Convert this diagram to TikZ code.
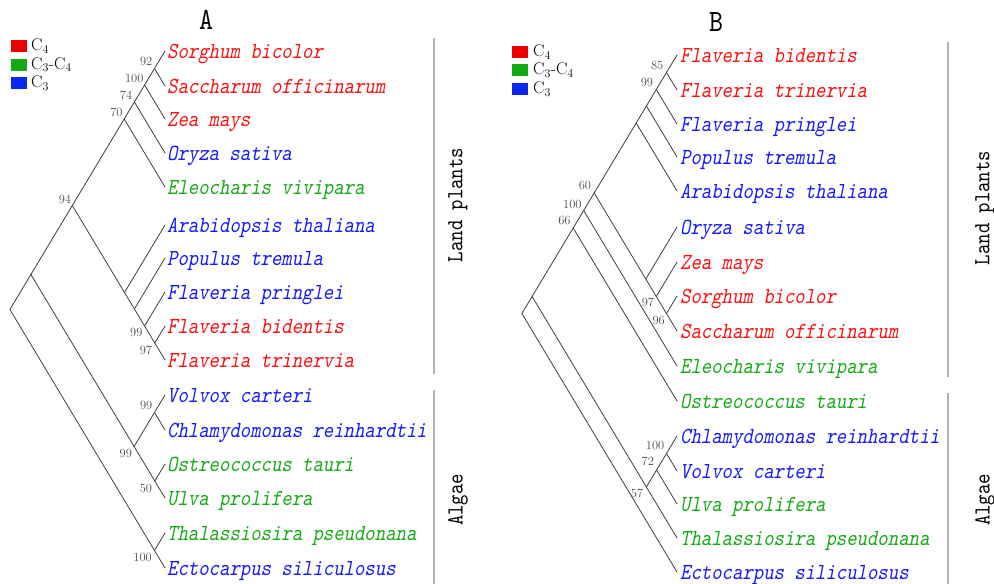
\documentclass[tikz,border=0pt]{standalone}
\usepackage{fontspec}
\newfontfamily\labfont{lmmono10-regular.otf}[FakeSlant=0.2,FakeStretch=0.86]
\newfontfamily\sidefont{lmmono10-regular.otf}[FakeStretch=0.86]
\definecolor{cred}{RGB}{250,15,15}
\definecolor{cgreen}{RGB}{20,170,20}
\definecolor{cblue}{RGB}{20,25,250}
\definecolor{lred}{RGB}{235,0,0}
\definecolor{lgreen}{RGB}{20,170,20}
\definecolor{lblue}{RGB}{10,40,240}
\tikzset{
  branch/.style={draw=black!75, line width=0.8pt, line cap=round},
  leaf/.style={anchor=base west, inner sep=0pt, font=\labfont\fontsize{23}{23}\selectfont},
  bsu/.style={anchor=south east, inner sep=0pt, text=black!70, font=\fontsize{12.5}{12.5}\selectfont},
  bsl/.style={anchor=north east, inner sep=0pt, text=black!70, font=\fontsize{12.5}{12.5}\selectfont},
  groupbar/.style={draw=black!30, line width=1.4pt},
  grouptext/.style={rotate=90, inner sep=0pt, font=\sidefont\fontsize{23}{23}\selectfont},
  legsq/.style={minimum width=16pt, minimum height=12pt, inner sep=0pt, draw=none},
  legtx/.style={anchor=west, inner sep=0pt, font=\fontsize{17}{17}\selectfont},
  ttl/.style={inner sep=0pt, font=\sidefont\fontsize{31}{31}\selectfont}
}
\begin{document}
\begin{tikzpicture}[x=1pt,y=-1pt,line join=round]
\useasboundingbox (0,0) rectangle (994,584);

% ---------------- titles
\node[ttl] (titleA) at (206,20) {A};
\node[ttl] (titleB) at (716,22) {B};

% ---------------- legends
\node[legsq, fill=lred]   (lgA1) at (19,46) {};
\node[legsq, fill=lgreen] (lgA2) at (19,64.5) {};
\node[legsq, fill=lblue]  (lgA3) at (19,83) {};
\node[legtx] (lgA1t) at (31,46) {C$_4$};
\node[legtx] (lgA2t) at (31,64.5) {C$_3$-C$_4$};
\node[legtx] (lgA3t) at (31,83) {C$_3$};
\node[legsq, fill=lred]   (lgB1) at (520,52) {};
\node[legsq, fill=lgreen] (lgB2) at (520,70) {};
\node[legsq, fill=lblue]  (lgB3) at (520,89) {};
\node[legtx] (lgB1t) at (533,52) {C$_4$};
\node[legtx] (lgB2t) at (533,70) {C$_3$-C$_4$};
\node[legtx] (lgB3t) at (533,89) {C$_3$};

% ---------------- tree A leaves
\foreach \n/\y/\c/\t in {
  a1/51/cred/Sorghum bicolor,
  a2/86/cred/Saccharum officinarum,
  a3/119/cred/Zea mays,
  a4/153/cblue/Oryza sativa,
  a5/187/cgreen/Eleocharis vivipara,
  a6/225/cblue/Arabidopsis thaliana,
  a7/258/cblue/Populus tremula,
  a8/292/cblue/Flaveria pringlei,
  a9/326/cred/Flaveria bidentis,
  a10/360/cred/Flaveria trinervia,
  a11/395/cblue/Volvox carteri,
  a12/430/cblue/Chlamydomonas reinhardtii,
  a13/464/cgreen/Ostreococcus tauri,
  a14/498/cgreen/Ulva prolifera,
  a15/533/cgreen/Thalassiosira pseudonana,
  a16/568/cblue/Ectocarpus siliculosus}
{
  \coordinate (\n) at (165,\y);
  \node[leaf, text=\c] (\n l) at ([xshift=2pt,yshift=-7.5pt]\n) {\t};
}

% tree A internal nodes
\coordinate (rA)   at (9.9,309.5);
\coordinate (n1)   at (30.9,274.5);
\coordinate (t100) at (154.5,550.5);
\coordinate (a94)  at (72.3,205.5);
\coordinate (gA99) at (134.1,446.5);
\coordinate (g99)  at (154.5,412.5);
\coordinate (g50)  at (154.8,481);
\coordinate (a70)  at (124.2,119);
\coordinate (a74)  at (134.4,102);
\coordinate (a100) at (144.6,85);
\coordinate (a92)  at (154.5,68.5);
\coordinate (d1)   at (124.5,292.5);
\coordinate (d2)   at (134.4,309);
\coordinate (d3)   at (144.6,326);
\coordinate (d4)   at (154.8,343);

\foreach \p/\c in {rA/n1, rA/t100, t100/a15, t100/a16,
  n1/a94, n1/gA99, gA99/g99, gA99/g50, g99/a11, g99/a12, g50/a13, g50/a14,
  a94/a70, a94/d1, a70/a74, a70/a5, a74/a100, a74/a4, a100/a92, a100/a3,
  a92/a1, a92/a2, d1/a6, d1/d2, d2/a7, d2/d3, d3/a8, d3/d4, d4/a9, d4/a10}
  \draw[branch] (\p) -- (\c);

% bootstrap A
\node[bsu] (bA92)  at ([xshift=-2pt,yshift=2.5pt]a92)  {92};
\node[bsu] (bA100) at ([xshift=-1pt,yshift=2pt]a100)   {100};
\node[bsu] (bA74)  at ([xshift=-2pt,yshift=2.5pt]a74)  {74};
\node[bsu] (bA70)  at ([xshift=-1.5pt,yshift=2pt]a70)  {70};
\node[bsu] (bA94)  at ([xshift=-1pt,yshift=1.5pt]a94)  {94};
\node[bsl] (bAd3)  at ([xshift=-2pt,yshift=-2pt]d3)    {99};
\node[bsl] (bAd4)  at ([xshift=-2.5pt,yshift=-2.5pt]d4) {97};
\node[bsu] (bAg99) at ([xshift=-2pt,yshift=3pt]g99)    {99};
\node[bsl] (bAgA)  at ([xshift=-2pt,yshift=-2.5pt]gA99) {99};
\node[bsl] (bAg50) at ([xshift=-2.5pt,yshift=-2.5pt]g50) {50};
\node[bsl] (bAt)   at ([xshift=-2.5pt,yshift=-2.5pt]t100) {100};

% group bars A
\coordinate (gbA1) at (434,38);  \coordinate (gbA2) at (434,374);
\coordinate (gbA3) at (434,390); \coordinate (gbA4) at (434,584);
\draw[groupbar] (gbA1) -- (gbA2);
\draw[groupbar] (gbA3) -- (gbA4);
\node[grouptext] (landA) at (458,205) {Land plants};
\node[grouptext] (algA)  at (458,500) {Algae};

% ---------------- tree B leaves
\foreach \n/\y/\c/\t in {
  b1/55/cred/Flaveria bidentis,
  b2/90/cred/Flaveria trinervia,
  b3/124/cblue/Flaveria pringlei,
  b4/157/cblue/Populus tremula,
  b5/191/cblue/Arabidopsis thaliana,
  b6/227/cblue/Oryza sativa,
  b7/262/cred/Zea mays,
  b8/296/cred/Sorghum bicolor,
  b9/331/cred/Saccharum officinarum,
  b10/366/cgreen/Eleocharis vivipara,
  b11/401/cgreen/Ostreococcus tauri,
  b12/436/cblue/Chlamydomonas reinhardtii,
  b13/471/cblue/Volvox carteri,
  b14/504/cgreen/Ulva prolifera,
  b15/538/cgreen/Thalassiosira pseudonana,
  b16/572/cblue/Ectocarpus siliculosus}
{
  \coordinate (\n) at (677,\y);
  \node[leaf, text=\c] (\n l) at ([xshift=3pt,yshift=-7.5pt]\n) {\t};
}

% tree B internal nodes
\coordinate (rB)    at (521.9,313.5);
\coordinate (bx)    at (532.1,296.5);
\coordinate (b66)   at (573.2,228);
\coordinate (b100)  at (583.7,210.5);
\coordinate (b60)   at (594.2,193);
\coordinate (bd)    at (636.2,123);
\coordinate (bp)    at (646.4,106);
\coordinate (b99)   at (656.3,89.5);
\coordinate (b85)   at (666.5,72.5);
\coordinate (bg)    at (645.8,279);
\coordinate (b97)   at (656.3,296.5);
\coordinate (b96)   at (666.5,313.5);
\coordinate (b57)   at (646.4,487);
\coordinate (b72)   at (656.6,470);
\coordinate (ba100) at (666.5,453.5);

\foreach \p/\c in {rB/bx, rB/b16, bx/b66, bx/b57, b66/b100, b66/b11,
  b100/b60, b100/b10, b60/bd, b60/bg, bd/bp, bd/b5, bp/b99, bp/b4,
  b99/b85, b99/b3, b85/b1, b85/b2, bg/b6, bg/b97, b97/b7, b97/b96,
  b96/b8, b96/b9, b57/b72, b57/b15, b72/ba100, b72/b14, ba100/b12, ba100/b13}
  \draw[branch] (\p) -- (\c);

% bootstrap B
\node[bsu] (bB85)  at ([xshift=-3pt,yshift=2.5pt]b85)  {85};
\node[bsu] (bB99)  at ([xshift=-3pt,yshift=2.5pt]b99)  {99};
\node[bsu] (bB60)  at ([xshift=-3pt,yshift=3pt]b60)    {60};
\node[bsu] (bB100) at ([xshift=-2pt,yshift=2pt]b100)   {100};
\node[bsu] (bB66)  at ([xshift=-2.5pt,yshift=3pt]b66)  {66};
\node[bsl] (bB97)  at ([xshift=-2pt,yshift=-1.5pt]b97) {97};
\node[bsl] (bB96)  at ([xshift=-1.5pt,yshift=-2pt]b96) {96};
\node[bsu] (bBa)   at ([xshift=-2pt,yshift=4pt]ba100)  {100};
\node[bsu] (bB72)  at ([xshift=-2.5pt,yshift=4pt]b72)  {72};
\node[bsl] (bB57)  at ([xshift=-3pt,yshift=-2pt]b57)   {57};

% group bars B
\coordinate (gbB1) at (948,42);  \coordinate (gbB2) at (948,377);
\coordinate (gbB3) at (948,393); \coordinate (gbB4) at (948,584);
\draw[groupbar] (gbB1) -- (gbB2);
\draw[groupbar] (gbB3) -- (gbB4);
\node[grouptext] (landB) at (985,208) {Land plants};
\node[grouptext] (algB)  at (985,500) {Algae};
\end{tikzpicture}
\end{document}
